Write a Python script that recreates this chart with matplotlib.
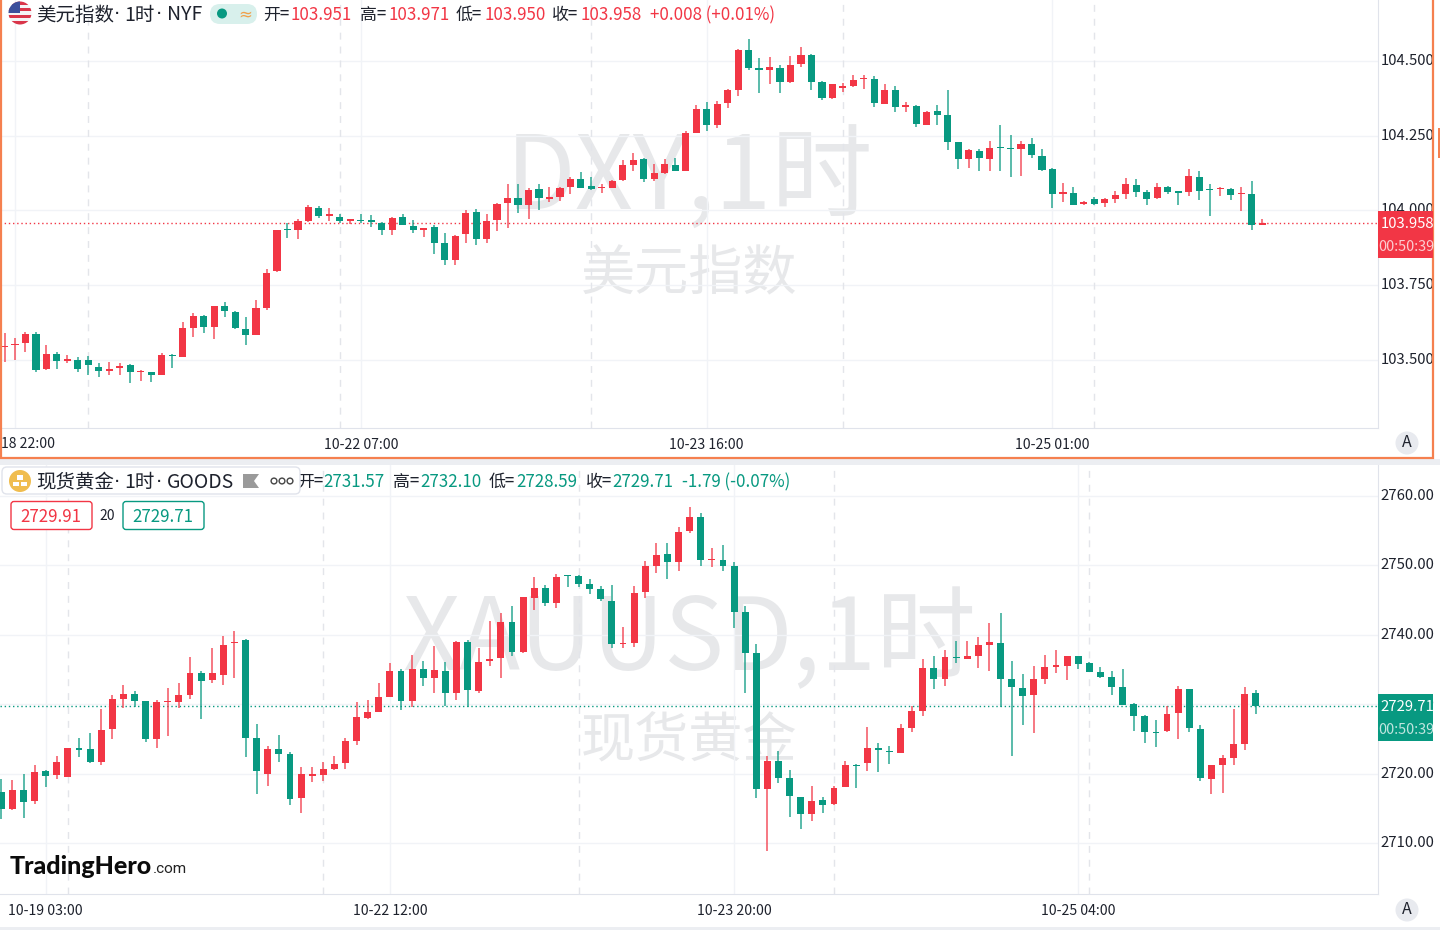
import numpy as np
import matplotlib
matplotlib.use('Agg')
import matplotlib.pyplot as plt
from matplotlib.patches import Circle, FancyBboxPatch, Rectangle, Polygon

plt.rcParams['font.family'] = ['Noto Sans CJK SC', 'DejaVu Sans']

# 美元指数 1小时
dxy_open = [103.543,103.548,103.555,103.586,103.468,103.518,103.495,103.500,103.500,103.476,
    103.461,103.471,103.481,103.458,103.460,103.449,103.516,103.510,103.607,103.645,
    103.609,103.680,103.659,103.604,103.584,103.673,103.795,103.938,103.935,103.964,
    104.009,103.981,103.976,103.965,103.968,103.965,103.958,103.934,103.976,103.948,
    103.935,103.944,103.891,103.835,103.919,103.993,103.904,103.967,104.025,104.041,
    104.017,104.070,104.038,104.045,104.077,104.105,104.082,104.073,104.076,104.101,
    104.152,104.172,104.106,104.124,104.152,104.130,104.260,104.340,104.285,104.359,
    104.402,104.537,104.476,104.471,104.478,104.429,104.489,104.521,104.429,104.375,
    104.411,104.417,104.438,104.441,104.357,104.404,104.345,104.348,104.286,104.333,
    104.319,104.228,104.171,104.200,104.172,104.212,104.209,104.205,104.223,104.182,
    104.137,104.056,104.058,104.021,104.039,104.025,104.038,104.053,104.086,104.060,
    104.040,104.078,104.064,104.060,104.112,104.072,104.070,104.070,104.053,104.055,103.951]
dxy_close = [103.546,103.551,103.586,103.465,103.520,103.495,103.501,103.470,103.481,103.461,
    103.468,103.480,103.458,103.461,103.449,103.515,103.512,103.607,103.645,103.609,
    103.678,103.662,103.607,103.584,103.672,103.790,103.934,103.934,103.963,104.010,
    103.981,103.987,103.965,103.970,103.963,103.962,103.934,103.973,103.952,103.934,
    103.941,103.892,103.835,103.914,103.991,103.905,103.965,104.021,104.041,104.017,
    104.068,104.041,104.045,104.074,104.105,104.075,104.070,104.078,104.099,104.152,
    104.169,104.105,104.124,104.154,104.132,104.259,104.338,104.287,104.357,104.402,
    104.537,104.478,104.471,104.480,104.429,104.486,104.519,104.431,104.376,104.422,
    104.415,104.435,104.443,104.359,104.404,104.347,104.351,104.288,104.330,104.320,
    104.230,104.171,104.202,104.175,104.210,104.208,104.205,104.222,104.184,104.135,
    104.055,104.060,104.019,104.027,104.021,104.037,104.050,104.087,104.061,104.039,
    104.077,104.061,104.059,104.115,104.066,104.068,104.074,104.050,104.056,103.951,103.958]
dxy_high = [103.590,103.571,103.594,103.594,103.548,103.526,103.517,103.508,103.511,103.490,
    103.491,103.489,103.486,103.465,103.460,103.521,103.519,103.625,103.655,103.650,
    103.681,103.693,103.662,103.642,103.700,103.803,103.934,103.959,103.972,104.016,
    104.015,104.007,103.988,103.970,103.987,103.983,103.960,103.978,103.989,103.967,
    103.941,103.949,103.923,103.918,104.001,104.003,103.988,104.026,104.087,104.087,
    104.074,104.087,104.077,104.077,104.113,104.127,104.112,104.087,104.102,104.169,
    104.193,104.176,104.154,104.173,104.174,104.265,104.354,104.362,104.367,104.405,
    104.539,104.573,104.509,104.512,104.486,104.515,104.546,104.523,104.434,104.423,
    104.425,104.452,104.453,104.448,104.423,104.416,104.363,104.351,104.334,104.351,
    104.401,104.228,104.205,104.205,104.232,104.286,104.252,104.232,104.243,104.204,
    104.140,104.092,104.077,104.031,104.043,104.040,104.063,104.109,104.105,104.067,
    104.092,104.080,104.065,104.137,104.133,104.089,104.078,104.074,104.077,104.097,103.971]
dxy_low = [103.493,103.497,103.527,103.457,103.465,103.467,103.487,103.457,103.450,103.442,
    103.448,103.448,103.421,103.429,103.426,103.448,103.473,103.509,103.576,103.588,
    103.568,103.644,103.602,103.550,103.582,103.665,103.793,103.906,103.904,103.960,
    103.973,103.965,103.957,103.954,103.957,103.945,103.916,103.916,103.950,103.925,
    103.909,103.853,103.816,103.818,103.890,103.884,103.890,103.929,103.942,103.992,
    103.972,104.001,104.027,104.031,104.056,104.074,104.068,104.057,104.075,104.097,
    104.130,104.096,104.099,104.122,104.131,104.130,104.260,104.267,104.277,104.342,
    104.384,104.468,104.392,104.423,104.392,104.425,104.479,104.402,104.368,104.374,
    104.396,104.414,104.405,104.345,104.356,104.328,104.328,104.280,104.286,104.286,
    104.202,104.137,104.141,104.130,104.130,104.130,104.111,104.115,104.174,104.133,
    104.009,104.028,104.019,104.016,104.016,104.010,104.025,104.038,104.046,104.019,
    104.039,104.053,104.019,104.049,104.035,103.982,104.048,104.035,103.996,103.933,103.950]

# 现货黄金 1小时
gold_open = [2717.35,2714.90,2717.64,2716.00,2720.33,2719.75,2719.51,2723.59,2723.55,2721.67,
    2726.38,2730.75,2731.52,2730.41,2724.94,2730.27,2730.37,2731.37,2734.54,2733.49,
    2734.21,2738.77,2739.25,2725.13,2719.99,2723.50,2722.83,2716.49,2719.70,2719.75,
    2720.66,2721.53,2724.75,2728.01,2728.88,2731.04,2734.78,2730.51,2735.07,2733.73,
    2734.83,2731.57,2738.96,2731.95,2736.23,2736.61,2741.85,2737.57,2745.35,2746.70,
    2744.58,2748.62,2748.43,2747.32,2746.55,2744.92,2738.63,2738.77,2746.17,2749.96,
    2751.64,2750.54,2754.96,2757.02,2750.73,2750.73,2749.91,2743.29,2737.33,2717.83,
    2721.77,2719.32,2716.68,2714.18,2716.20,2715.67,2718.12,2721.24,2721.53,2723.74,
    2723.31,2722.92,2726.52,2728.97,2735.17,2733.63,2736.85,2736.56,2736.95,2738.58,
    2738.87,2733.58,2732.34,2731.28,2733.63,2735.41,2735.55,2736.95,2735.94,2734.59,
    2733.92,2732.43,2729.98,2728.30,2726.00,2726.09,2728.69,2732.24,2726.48,2719.27,
    2721.24,2722.25,2724.27,2731.57]
gold_close = [2714.90,2717.64,2715.91,2720.18,2719.66,2721.72,2723.64,2723.45,2721.67,2726.33,
    2730.75,2731.52,2730.46,2724.94,2730.32,2730.46,2731.33,2734.54,2733.39,2734.45,
    2738.48,2739.01,2725.18,2720.33,2723.55,2722.87,2716.34,2719.90,2719.90,2720.66,
    2721.43,2724.75,2728.16,2728.88,2730.99,2734.78,2730.46,2735.07,2733.73,2734.93,
    2731.57,2738.96,2732.05,2736.13,2736.56,2741.80,2737.57,2745.40,2746.70,2744.58,
    2748.28,2748.43,2747.32,2746.65,2745.11,2738.68,2738.87,2746.07,2749.96,2751.55,
    2750.54,2754.86,2756.93,2750.73,2750.92,2749.96,2743.33,2737.43,2717.78,2721.82,
    2719.42,2716.77,2714.18,2716.05,2715.52,2717.93,2721.24,2721.10,2723.69,2723.35,
    2723.07,2726.52,2728.97,2735.17,2733.63,2736.85,2736.61,2736.95,2738.58,2739.01,
    2733.63,2732.48,2731.18,2733.58,2735.41,2735.55,2736.95,2735.79,2734.64,2733.87,
    2732.48,2729.93,2728.35,2726.00,2725.85,2728.54,2732.24,2726.52,2719.41,2721.19,
    2722.25,2724.22,2731.47,2729.71]
gold_high = [2719.18,2719.03,2719.94,2721.19,2720.52,2722.54,2723.74,2725.08,2725.80,2729.26,
    2731.33,2732.77,2731.86,2730.41,2730.61,2732.38,2733.10,2736.85,2734.83,2738.10,
    2739.83,2740.55,2739.35,2727.15,2724.03,2725.52,2723.07,2720.95,2720.95,2721.62,
    2722.54,2725.08,2730.27,2730.65,2733.10,2735.94,2735.02,2737.09,2736.27,2738.39,
    2736.03,2739.06,2739.25,2738.05,2742.04,2743.09,2744.15,2745.50,2748.28,2747.22,
    2748.76,2748.62,2748.57,2747.99,2747.03,2747.13,2741.12,2747.03,2750.63,2753.18,
    2753.18,2755.58,2758.46,2757.60,2752.51,2752.94,2750.49,2744.15,2738.68,2722.54,
    2723.31,2720.52,2716.68,2718.21,2716.68,2718.26,2721.87,2721.39,2726.76,2724.46,
    2724.03,2727.10,2729.79,2736.47,2736.99,2737.86,2739.11,2739.11,2739.64,2741.65,
    2743.19,2736.23,2734.35,2735.51,2737.04,2737.81,2736.95,2736.95,2736.03,2735.41,
    2734.83,2735.03,2730.22,2728.40,2727.72,2729.74,2732.62,2732.24,2726.96,2721.29,
    2722.68,2729.31,2732.43,2732.10]
gold_low = [2713.46,2714.80,2713.65,2715.62,2718.12,2719.18,2719.46,2722.44,2721.58,2721.19,
    2724.94,2729.45,2729.65,2724.55,2723.69,2725.37,2729.45,2730.80,2727.82,2733.10,
    2732.82,2733.73,2722.44,2717.01,2718.17,2721.67,2715.43,2714.32,2718.84,2718.89,
    2720.52,2720.71,2724.12,2727.87,2728.83,2731.04,2729.16,2729.65,2732.67,2731.66,
    2729.79,2730.61,2729.55,2731.66,2735.51,2733.82,2736.95,2737.43,2743.57,2744.20,
    2743.86,2746.84,2746.94,2745.88,2744.87,2738.15,2738.05,2738.29,2745.35,2748.86,
    2748.09,2749.24,2754.72,2749.91,2749.77,2749.19,2740.93,2731.66,2716.53,2708.85,
    2718.60,2713.80,2711.97,2713.22,2714.28,2715.52,2718.12,2717.88,2720.33,2720.28,
    2721.43,2722.92,2725.95,2728.35,2732.24,2732.58,2735.89,2736.47,2735.22,2734.83,
    2729.55,2722.54,2726.96,2725.90,2732.96,2734.55,2733.49,2735.07,2734.59,2733.78,
    2731.33,2729.89,2726.19,2724.46,2723.88,2726.00,2725.03,2725.95,2718.93,2717.11,
    2717.25,2721.19,2723.35,2728.59]

dxy_ticks = [103.5, 103.75, 104.0, 104.25, 104.5]
dxy_tick_labels = ['103.500', '103.750', '104.000', '104.250', '104.500']
gold_ticks = [2710, 2720, 2730, 2740, 2750, 2760]
gold_tick_labels = ['2710.00', '2720.00', '2730.00', '2740.00', '2750.00', '2760.00']

# 时间轴: 序号 -> 标签
dxy_time_bars = [1, 34, 67, 100]
dxy_time_labels = ['', '10-22 07:00', '10-23 16:00', '10-25 01:00']
dxy_session_bars = [8, 32, 56, 80, 104]
gold_time_bars = [4, 35, 66, 97]
gold_time_labels = ['10-19 03:00', '10-22 12:00', '10-23 20:00', '10-25 04:00']
gold_session_bars = [6, 29, 52, 75, 98]

RED = '#f23645'
GREEN = '#089981'
GRID = '#f1f3f7'
TEXT = '#1e222d'
MARK = '#e7e8ea'
ORANGE = '#f5804f'


def draw_candles(ax, o, h, l, c, width, min_body):
    o, h, l, c = map(np.array, (o, h, l, c))
    x = np.arange(len(o))
    colors = np.where(c >= o, RED, GREEN)
    ax.vlines(x, l, h, colors=colors, linewidth=1.1, alpha=0.85, zorder=3)
    bottom = np.minimum(o, c)
    height = np.maximum(np.abs(c - o), min_body)
    ax.bar(x, height, width=width, bottom=bottom, color=colors, linewidth=0, zorder=4)


def setup_axes(ax, ticks, tick_labels, bars, time_labels, sessions):
    ax.set_yticks(ticks)
    ax.set_yticklabels(tick_labels)
    ax.yaxis.tick_right()
    ax.set_xticks(bars)
    ax.set_xticklabels(time_labels)
    ax.tick_params(length=0, labelcolor=TEXT)
    ax.tick_params(axis='y', pad=2, labelsize=10.7)
    ax.tick_params(axis='x', pad=7.5, labelsize=10.1)
    for t in ax.get_yticklabels():
        t.set_y(t.get_position()[1])
        t.set_verticalalignment('center')
    ax.grid(True, color=GRID, linewidth=1)
    ax.set_axisbelow(True)
    for s in sessions:
        ax.axvline(s, color='#e3e5ea', linewidth=1, dashes=(5, 5), zorder=1)
    for name in ['top', 'left']:
        ax.spines[name].set_visible(False)
    for name in ['right', 'bottom']:
        ax.spines[name].set_color('#e0e3eb')


fig = plt.figure(figsize=(14.4, 9.3), dpi=100, facecolor='white')
W, H = 1440.0, 930.0

ax1 = fig.add_axes([0, (H - 428) / H, 1378 / W, 428 / H])
ax2 = fig.add_axes([0, (H - 894) / H, 1378 / W, 429 / H])

ax1.set_xlim(-0.43, 131.06)
ax1.set_ylim(103.271, 104.704)
ax2.set_xlim(-0.117, 124.0)
ax2.set_ylim(2702.65, 2764.47)

setup_axes(ax1, dxy_ticks, dxy_tick_labels, dxy_time_bars, dxy_time_labels, dxy_session_bars)
setup_axes(ax2, gold_ticks, gold_tick_labels, gold_time_bars, gold_time_labels, gold_session_bars)

draw_candles(ax1, dxy_open, dxy_high, dxy_low, dxy_close, 0.68, 0.004)
draw_candles(ax2, gold_open, gold_high, gold_low, gold_close, 0.62, 0.18)

ax1.axhline(dxy_close[-1], color=RED, linewidth=1, dashes=(1, 2), zorder=2)
ax2.axhline(gold_close[-1], color=GREEN, linewidth=1, dashes=(1, 2), zorder=2)

# 水印
for ax, big, small, size, y1, y2 in [(ax1, 'DXY,1时', '美元指数', 73, 0.578, 0.358),
                                     (ax2, 'XAUUSD,1时', '现货黄金', 72, 0.588, 0.355)]:
    ax.text(0.5, y1, big, transform=ax.transAxes, ha='center', va='center',
            fontsize=size, color=MARK, zorder=0)
    ax.text(0.5, y2, small, transform=ax.transAxes, ha='center', va='center',
            fontsize=39, color=MARK, zorder=0)

# 覆盖层, 像素坐标
ov = fig.add_axes([0, 0, 1, 1], zorder=10)
ov.set_xlim(0, W)
ov.set_ylim(H, 0)
ov.axis('off')
ov.patch.set_alpha(0)

ov.add_patch(Rectangle((0, 459), 1440, 6, color='#eceef2', lw=0))
ov.add_patch(Rectangle((0, 927), 1440, 3, color='#eceef2', lw=0))
ov.add_patch(Rectangle((1, -3), 1432, 461, fill=False, edgecolor=ORANGE, lw=1.6))
ov.add_patch(Rectangle((1437.5, 128), 2.5, 30, color=ORANGE, lw=0))
ov.text(1, 444, '18 22:00', fontsize=10.1, color=TEXT, ha='left', va='center')

# 价格标签
for y0, col, price in [(211, RED, '103.958'), (694, GREEN, '2729.71')]:
    box = Rectangle((1378, y0), 55, 47, color=col, lw=0)
    ov.add_patch(box)
    ov.text(1380.5, y0 + 13, price, fontsize=10.7, color='white', va='center')
    t = ov.text(1378.5, y0 + 36, '00:50:39', fontsize=10.4, color='#ffffff', alpha=0.75, va='center')
    t.set_clip_path(box)

# "A" 按钮
for y0 in [443, 910]:
    ov.add_patch(Circle((1407, y0), 11.5, color='#e8eaef', lw=0))
    ov.text(1407, y0 - 0.5, 'A', fontsize=11.5, color=TEXT, ha='center', va='center')

# 上图图例
flag = Circle((20, 13), 11.5, transform=ov.transData)
for k in range(7):
    s = ov.add_patch(Rectangle((8, 1.5 + k * 3.3), 24, 3.3, color='#d9354a' if k % 2 == 0 else '#f4f4f6', lw=0))
    s.set_clip_path(flag)
s = ov.add_patch(Rectangle((8, 1), 12, 12, color='#3b4f9c', lw=0))
s.set_clip_path(flag)


def title_parts(y0, name, source, z):
    ov.text(36, y0, name, fontsize=14, color=TEXT, va='center', zorder=z)
    ov.text(117, y0, '·', fontsize=14, color=TEXT, ha='center', va='center', family=['DejaVu Sans'], zorder=z)
    ov.text(124, y0, '1时', fontsize=14, color=TEXT, va='center', zorder=z)
    ov.text(159, y0, '·', fontsize=14, color=TEXT, ha='center', va='center', family=['DejaVu Sans'], zorder=z)
    ov.text(167, y0, source, fontsize=14, color=TEXT, va='center', zorder=z)


title_parts(15, '美元指数', 'NYF', 3)
ov.add_patch(FancyBboxPatch((210, 4), 47, 20, boxstyle='round,pad=0,rounding_size=10', color='#d8f0ec', lw=0))
ov.add_patch(Circle((222, 13.5), 5, color=GREEN, lw=0))
ov.text(245, 14, '≈', fontsize=12, color='#f0a04b', ha='center', va='center', family=['DejaVu Sans'])

legend_top = [(263, '开=', TEXT), (291, '103.951', RED), (360, '高=', TEXT), (388, '103.971', RED),
              (456, '低=', TEXT), (484, '103.950', RED), (552, '收=', TEXT), (581, '103.958', RED),
              (650, '+0.008 (+0.01%)', RED)]
for x0, s, col in legend_top:
    ov.text(x0, 15, s, fontsize=12.2, color=col, va='center')

# 下图图例, 盒子盖住"开"的一部分
legend_bot = [(297, '开=', TEXT), (323, '2731.57', GREEN), (393, '高=', TEXT), (420, '2732.10', GREEN),
              (489, '低=', TEXT), (516, '2728.59', GREEN), (586, '收=', TEXT), (612, '2729.71', GREEN),
              (682, '-1.79 (-0.07%)', GREEN)]
for x0, s, col in legend_bot:
    ov.text(x0, 482, s, fontsize=12.2, color=col, va='center')
ov.add_patch(FancyBboxPatch((2, 467), 298, 27, boxstyle='round,pad=0,rounding_size=5',
                            facecolor='white', edgecolor='#e0e3eb', lw=1, zorder=5))
ov.add_patch(Circle((20, 481), 11, color='#f0bd4f', lw=0, zorder=6))
for cx, cy in [(20, 477.5), (16, 484), (24, 484)]:
    ov.add_patch(Rectangle((cx - 3, cy - 2.2), 6, 4.4, color='white', lw=0, zorder=7))
title_parts(482, '现货黄金', 'GOODS', 6)
ov.add_patch(Polygon([(243, 474), (259, 474), (254, 481), (259, 488), (243, 488)], color='#9a9a9a', lw=0, zorder=6))
for cx in [274, 282, 290]:
    ov.add_patch(Circle((cx, 481), 2.9, facecolor='white', edgecolor='#444444', lw=1, zorder=6))

# 买卖价框
ov.add_patch(FancyBboxPatch((11, 501.5), 81, 28, boxstyle='round,pad=0,rounding_size=3', facecolor='white', edgecolor=RED, lw=1))
ov.text(51, 516.5, '2729.91', fontsize=12.2, color=RED, ha='center', va='center')
ov.text(107.5, 516, '20', fontsize=10, color=TEXT, ha='center', va='center')
ov.add_patch(FancyBboxPatch((123, 501.5), 81, 28, boxstyle='round,pad=0,rounding_size=3', facecolor='white', edgecolor=GREEN, lw=1))
ov.text(163, 516.5, '2729.71', fontsize=12.2, color=GREEN, ha='center', va='center')

# logo
ov.text(10, 866, 'TradingHero', fontsize=18, fontweight=900, family=['Lato', 'DejaVu Sans'], color='#0b0b0b', va='center')
ov.text(153, 869, '.com', fontsize=11, color='#222222', family=['Roboto', 'DejaVu Sans'], va='center')

fig.savefig('out.png', dpi=100)
